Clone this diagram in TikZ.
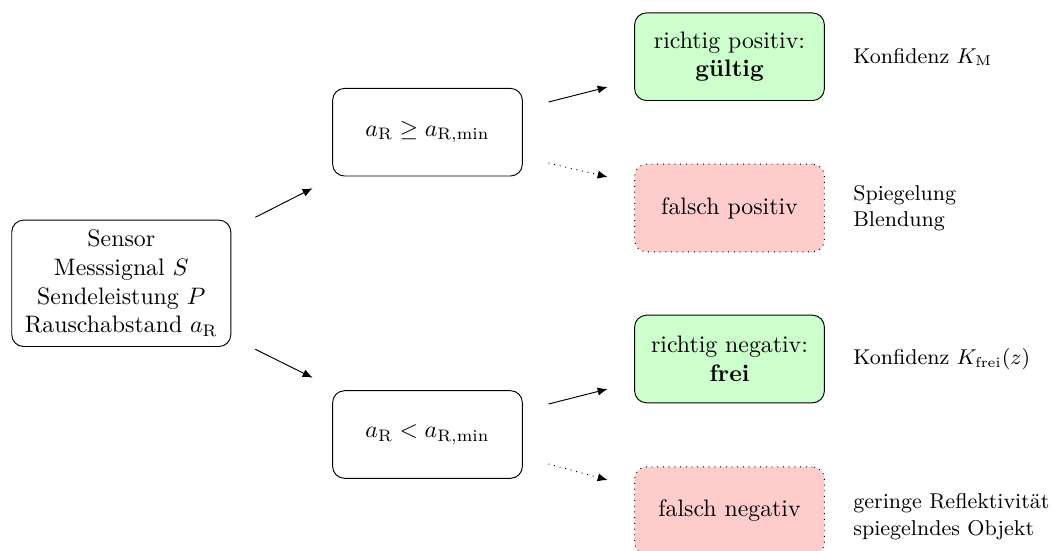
\documentclass[tikz,border=0pt]{standalone}
\usepackage{fontspec}
\usetikzlibrary{calc,arrows.meta}
\begin{document}
\begin{tikzpicture}[x=0.42pt,y=-0.42pt,
  basebox/.style={draw, rounded corners=5pt, align=center, font=\normalsize},
  sensorbox/.style={basebox, inner xsep=5.5pt, inner ysep=4.2pt},
  condbox/.style={basebox, minimum width=79.7pt, minimum height=36.8pt},
  goodbox/.style={condbox, fill=green!20},
  badbox/.style={condbox, fill=red!20, dotted},
  note/.style={anchor=west, align=left, inner sep=0pt, font=\small},
  arr/.style={-{Latex[length=4.2pt,width=3.4pt]}},
  darr/.style={arr, dotted}]
\useasboundingbox (0,0) rectangle (1056,550);

\node[sensorbox] (sensor) at (121.3,283.3) {Sensor\\ Messsignal $S$\\ Sendeleistung $P$\\ Rauschabstand $a_\mathrm{R}$};

\node[condbox] (up) at (427.5,132.2) {$a_\mathrm{R} \geq a_{\mathrm{R},\min}$};
\node[condbox] (lo) at (427.5,434.5) {$a_\mathrm{R} < a_{\mathrm{R},\min}$};

\node[goodbox] (g1) at (729.5,56.7) {richtig positiv:\\ \textbf{gültig}};
\node[badbox]  (r1) at (729.5,208) {falsch positiv};
\node[goodbox] (g2) at (729.5,359) {richtig negativ:\\ \textbf{frei}};
\node[badbox]  (r2) at (729.5,510.7) {falsch negativ};

\node[note] (n1) at ($(g1.east)+(28,0)$) {Konfidenz $K_\mathrm{M}$};
\node[note] (n2) at ($(r1.east)+(28,0)$) {Spiegelung\\ Blendung};
\node[note] (n3) at ($(g2.east)+(28,0)$) {Konfidenz $K_\mathrm{frei}(z)$};
\node[note] (n4) at ($(r2.east)+(28,6)$) {geringe Reflektivität\\ spiegelndes Objekt};

\draw[arr] ($(sensor.east)+(24,-66)$) -- ($(up.west)+(-19.5,56)$);
\draw[arr] ($(sensor.east)+(24,66)$) -- ($(lo.west)+(-19.5,-56.8)$);

\draw[arr]  ($(up.east)+(25.7,-30.2)$) -- ($(g1.west)+(-26.5,30.3)$);
\draw[darr] ($(up.east)+(25.7,30.8)$) -- ($(r1.west)+(-26.5,-31)$);
\draw[arr]  ($(lo.east)+(25.7,-30.5)$) -- ($(g2.west)+(-26.5,30)$);
\draw[darr] ($(lo.east)+(25.7,29.5)$) -- ($(r2.west)+(-26.5,-30.7)$);
\end{tikzpicture}
\end{document}
